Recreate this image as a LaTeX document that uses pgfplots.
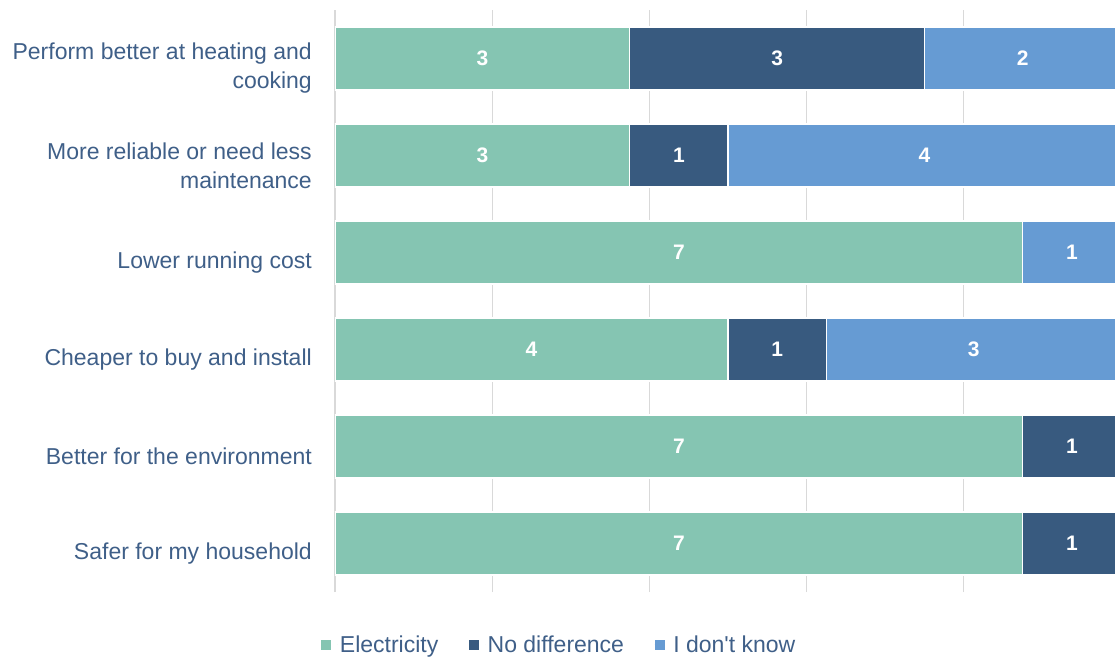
\documentclass[border=0pt]{standalone}
\usepackage{pgfplots}
\pgfplotsset{compat=1.18}
\usepackage{fontspec}
\setmainfont{Liberation Sans}[Ligatures=TeXOff]
\definecolor{elec}{HTML}{85C5B2}
\definecolor{nodiff}{HTML}{385A7F}
\definecolor{dunno}{HTML}{669BD3}
\definecolor{txt}{HTML}{3F5F88}
\definecolor{gridc}{HTML}{D9D9D9}
\begin{document}
\begin{tikzpicture}
\path[use as bounding box] (-335pt,-64pt) rectangle (780pt,592pt);
\begin{axis}[
  scale only axis,
  x=98.25pt, y=97pt,
  xmin=0, xmax=8,
  ymin=-0.5, ymax=5.5,
  xbar stacked,
  bar width=0.65,
  axis line style={draw=none},
  xtick={0,1.6,3.2,4.8,6.4},
  xticklabels={},
  xmajorgrids,
  grid style={gridc, line width=1.3pt},
  major tick length=0pt,
  ytick={0,1,2,3,4,5},
  yticklabels={Safer for my household, Better for the environment, Cheaper to buy and install, Lower running cost, {More reliable or need less\\maintenance}, {Perform better at heating and\\cooking}},
  yticklabel style={align=right, text=txt, font=\fontsize{23}{29}\selectfont, inner sep=0pt, xshift=-23pt, yshift=-10pt},
  point meta=explicit symbolic,
  nodes near coords={\fontsize{21}{22}\selectfont\bfseries\ifnum\pgfplotspointmeta>0 \pgfplotspointmeta\fi},
  every node near coord/.append style={anchor=center, text=white},
  legend style={draw=none, legend columns=3, at={(0.285,-0.091)}, anchor=center, font=\fontsize{23}{24}\selectfont, text=txt, inner sep=0pt,
    /tikz/every even column/.append style={column sep=28pt}},
  legend image code/.code={\path (0pt,0pt) -- (16pt,0pt); \fill[#1,draw=none] (0pt,-5pt) rectangle (10pt,5pt);},
  clip=true,
]
\addplot[fill=elec, draw=white, line width=1.3pt] coordinates {
 (7,0) [7] (7,1) [7] (4,2) [4] (7,3) [7] (3,4) [3] (3,5) [3]};
\addplot[fill=nodiff, draw=white, line width=1.3pt] coordinates {
 (1,0) [1] (1,1) [1] (1,2) [1] (0,3) [0] (1,4) [1] (3,5) [3]};
\addplot[fill=dunno, draw=white, line width=1.3pt] coordinates {
 (0,0) [0] (0,1) [0] (3,2) [3] (1,3) [1] (4,4) [4] (2,5) [2]};
\legend{Electricity, No difference, I don't know}
\end{axis}
\end{tikzpicture}
\end{document}
